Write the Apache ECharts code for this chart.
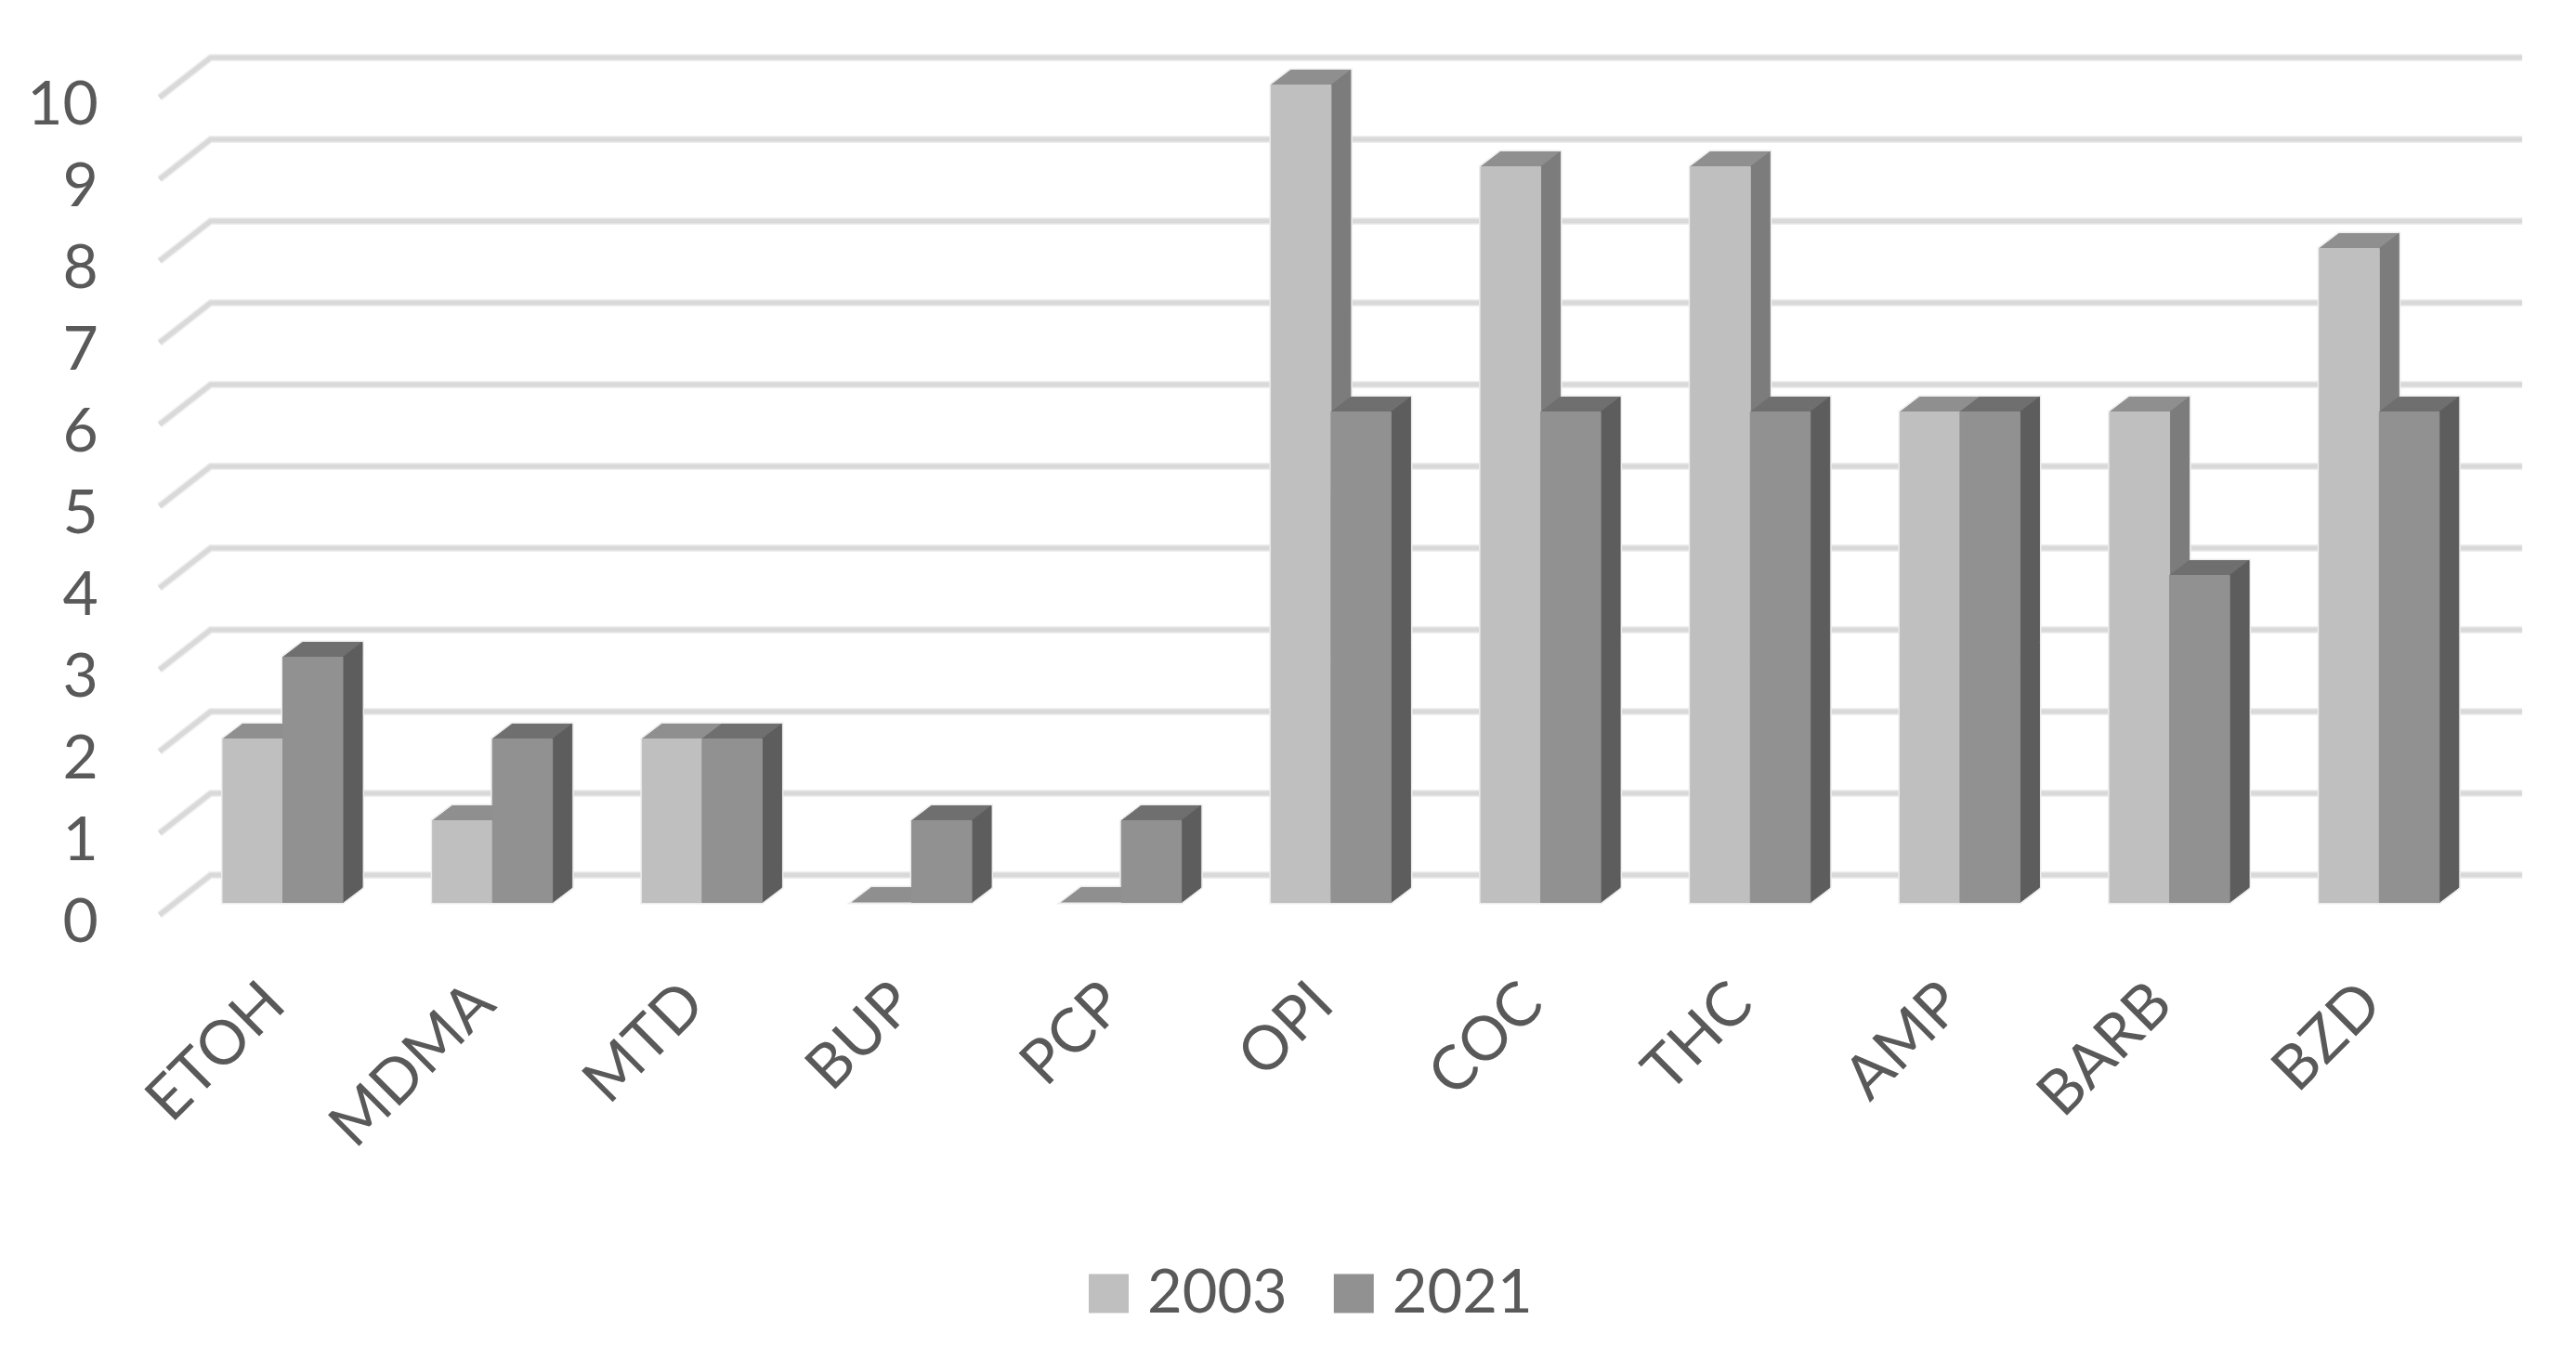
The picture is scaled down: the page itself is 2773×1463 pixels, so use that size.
<!DOCTYPE html>
<html>
<head>
<meta charset="utf-8">
<title>2003 vs 2021</title>
<script src="https://cdn.jsdelivr.net/npm/echarts@6/dist/echarts.min.js"></script>
<style>
  html, body { margin: 0; padding: 0; background: #fff; }
  #chart { width: 2773px; height: 1463px; }
</style>
</head>
<body>
<div id="chart"></div>
<script>
var categories = ['ETOH', 'MDMA', 'MTD', 'BUP', 'PCP', 'OPI', 'COC', 'THC', 'AMP', 'BARB', 'BZD'];
var values2003 = [2, 1, 2, 0, 0, 10, 9, 9, 6, 6, 8];
var values2021 = [3, 2, 2, 1, 1, 6, 6, 6, 6, 4, 6];
var yTicks = [0, 1, 2, 3, 4, 5, 6, 7, 8, 9, 10];

var textColor = '#595959';
var fontName = 'Lato';
var barWidth = 64.5;
var depthX = 21;
var depthY = 16;

function poly(points, fill) {
    return {
        type: 'polygon',
        shape: { points: points },
        style: { fill: fill, stroke: fill, lineWidth: 1 }
    };
}

// 柱子在页面上的几个关键点，side = -1 左柱 / 0 右柱
function barBox(side, api) {
    var p = api.coord([api.value(0), api.value(1)]);
    var base = api.coord([api.value(0), 0]);
    var x0 = p[0] + side * barWidth;
    return { x0: x0, x1: x0 + barWidth, yTop: p[1] - 13.5, yBase: base[1] - 13.5 };
}

// 假3D柱：正面、顶面、侧面
function cuboid(side, front, top, right) {
    return function (params, api) {
        var b = barBox(side, api);
        return {
            type: 'group',
            children: [
                poly([[b.x0, b.yTop], [b.x0 + depthX, b.yTop - depthY], [b.x1 + depthX, b.yTop - depthY], [b.x1, b.yTop]], top),
                poly([[b.x1, b.yBase], [b.x1, b.yTop], [b.x1 + depthX, b.yTop - depthY], [b.x1 + depthX, b.yBase - depthY]], right),
                poly([[b.x0, b.yBase], [b.x0, b.yTop], [b.x1, b.yTop], [b.x1, b.yBase]], front)
            ]
        };
    };
}

// 柱子外面一圈浅灰的边，画在所有柱子下面
function halo(side) {
    return function (params, api) {
        var b = barBox(side, api);
        return {
            type: 'polygon',
            shape: {
                points: [[b.x0, b.yBase], [b.x0, b.yTop], [b.x0 + depthX, b.yTop - depthY], [b.x1 + depthX, b.yTop - depthY], [b.x1 + depthX, b.yBase - depthY], [b.x1, b.yBase]]
            },
            style: { fill: '#ededed', stroke: '#ededed', lineWidth: 4 }
        };
    };
}

// 背景网格线：左侧斜线 + 后墙水平线
function wallLine(params, api) {
    var p = api.coord([0, api.value(1)]);
    var grid = params.coordSys;
    var pts = [[grid.x - 20, p[1]], [grid.x + 35, p[1] - 43], [grid.x + grid.width + 41, p[1] - 43]];
    return {
        type: 'group',
        children: [
            { type: 'polyline', shape: { points: pts }, style: { fill: 'none', stroke: '#eeeeee', lineWidth: 8 } },
            { type: 'polyline', shape: { points: pts }, style: { fill: 'none', stroke: '#d9d9d9', lineWidth: 5 } }
        ]
    };
}

function toPairs(list) {
    return list.map(function (v, i) { return [i, v]; });
}

var myChart = echarts.init(document.getElementById('chart'), null, { renderer: 'canvas' });
myChart.setOption({
    backgroundColor: '#ffffff',
    animation: false,
    legend: {
        data: ['2003', '2021'],
        left: 1172,
        top: 1360,
        padding: 0,
        icon: 'rect',
        itemWidth: 43,
        itemHeight: 42,
        itemGap: 50,
        textStyle: { color: textColor, fontFamily: fontName, fontSize: 65, padding: [0, 0, 0, 15] }
    },
    // 第二个 grid 只用来放 y 轴文字，比柱子的坐标低一点
    grid: [
        { left: 191.7, width: 2482.4, top: 105, height: 880 },
        { left: 191.7, width: 2482.4, top: 113, height: 880 }
    ],
    xAxis: [
        {
            type: 'category',
            data: categories,
            axisLine: { show: false },
            axisTick: { show: false },
            splitLine: { show: false },
            axisLabel: { color: textColor, fontFamily: fontName, fontSize: 66, rotate: 45, margin: 75, padding: [0, 13, 0, 0], interval: 0 }
        },
        { type: 'category', gridIndex: 1, data: categories, show: false }
    ],
    yAxis: [
        { type: 'value', min: 0, max: 10, interval: 1, show: false },
        {
            type: 'value',
            gridIndex: 1,
            min: 0,
            max: 10,
            interval: 1,
            axisLine: { show: false },
            axisTick: { show: false },
            splitLine: { show: false },
            axisLabel: { color: textColor, fontFamily: fontName, fontSize: 66, margin: 86 }
        }
    ],
    series: [
        {
            name: 'wall',
            type: 'custom',
            silent: true,
            z: 1,
            renderItem: wallLine,
            encode: { x: 0, y: 1 },
            data: yTicks.map(function (v) { return [0, v]; })
        },
        {
            name: 'halo2003',
            type: 'custom',
            silent: true,
            z: 2,
            renderItem: halo(-1),
            encode: { x: 0, y: 1 },
            data: toPairs(values2003)
        },
        {
            name: 'halo2021',
            type: 'custom',
            silent: true,
            z: 2,
            renderItem: halo(0),
            encode: { x: 0, y: 1 },
            data: toPairs(values2021)
        },
        {
            name: '2003',
            type: 'custom',
            z: 3,
            itemStyle: { color: '#bfbfbf' },
            renderItem: cuboid(-1, '#bfbfbf', '#8f8f8f', '#7c7c7c'),
            encode: { x: 0, y: 1 },
            data: toPairs(values2003)
        },
        {
            name: '2021',
            type: 'custom',
            z: 4,
            itemStyle: { color: '#919191' },
            renderItem: cuboid(0, '#919191', '#6f6f6f', '#5d5d5d'),
            encode: { x: 0, y: 1 },
            data: toPairs(values2021)
        }
    ]
});
</script>
</body>
</html>
